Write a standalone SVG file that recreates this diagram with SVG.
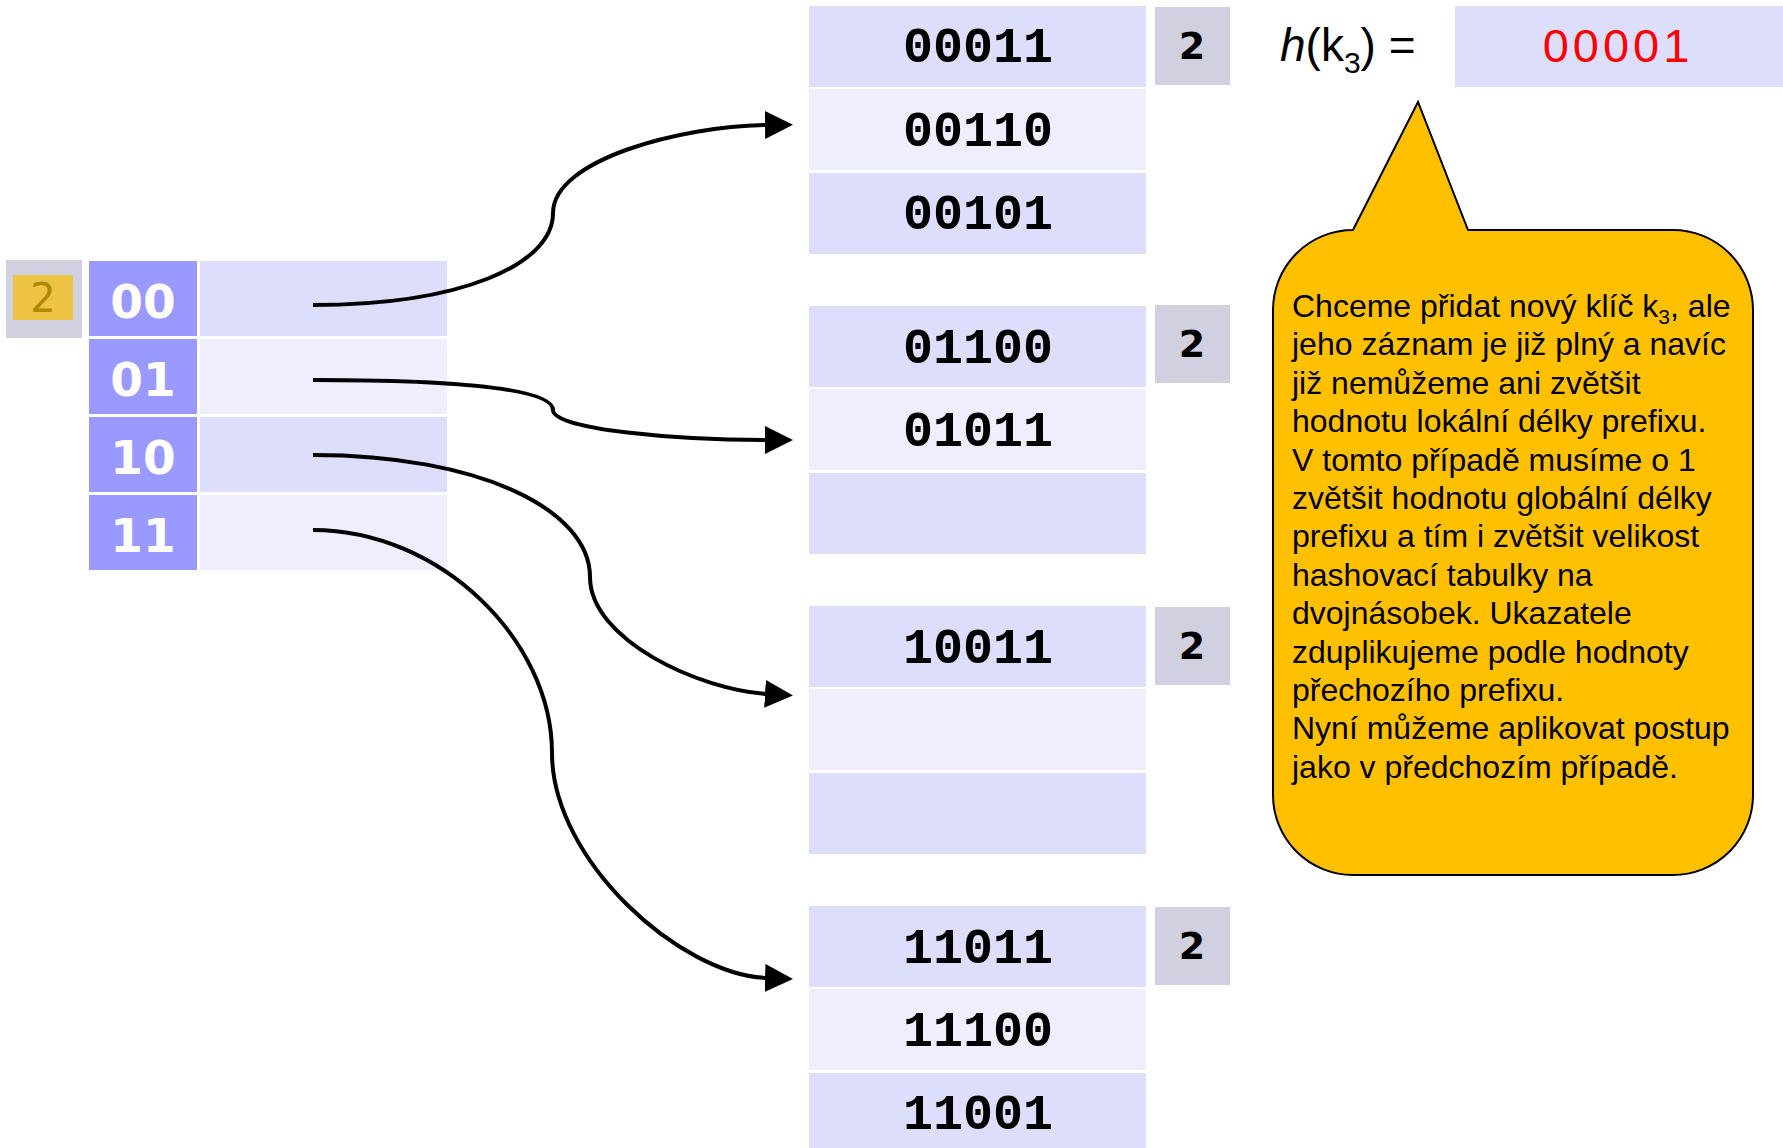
<svg xmlns="http://www.w3.org/2000/svg" width="1783" height="1148" viewBox="0 0 1783 1148">
<style>
.bg{fill:#ffffff}
.cd{fill:#DDDDFC}
.cl{fill:#EEEEFE}
.idx{fill:#9999FF}
.gray{fill:#D0D0E0}
.key{font-family:"Liberation Mono","DejaVu Sans Mono",monospace;font-weight:bold;font-size:50px;fill:#000;text-anchor:middle}
.depth{font-family:"DejaVu Sans",Verdana,sans-serif;font-weight:bold;font-size:38px;fill:#000;text-anchor:middle}
.idxt{font-family:"DejaVu Sans",Verdana,sans-serif;font-weight:bold;font-size:47px;fill:#fff;text-anchor:middle}
.note{font-family:"Liberation Sans",Arial,sans-serif;font-size:32px;fill:#000}
.conn{fill:none;stroke:#000;stroke-width:4;marker-end:url(#arr)}
</style>
<defs>
<marker id="arr" markerUnits="userSpaceOnUse" markerWidth="30" markerHeight="30" refX="2" refY="14" orient="auto">
<path d="M0,0 L28,14 L0,28 Z" fill="#000"/>
</marker>
</defs>
<rect class="bg" x="0" y="0" width="1783" height="1148"/>

<g id="global-depth">
<rect class="gray" x="6" y="260" width="76" height="78"/>
<rect x="13" y="275" width="60" height="45" fill="#EFC444"/>
<text x="43" y="312" font-family="'DejaVu Sans',Verdana,sans-serif" font-size="40" fill="#B08800" text-anchor="middle">2</text>
</g>

<g id="directory">
<rect class="idx" x="89" y="261" width="108" height="75"/>
<rect class="cd" x="200" y="261" width="247" height="75"/>
<text class="idxt" x="143" y="318">00</text>
<rect class="idx" x="89" y="339" width="108" height="75"/>
<rect class="cl" x="200" y="339" width="247" height="75"/>
<text class="idxt" x="143" y="396">01</text>
<rect class="idx" x="89" y="417" width="108" height="75"/>
<rect class="cd" x="200" y="417" width="247" height="75"/>
<text class="idxt" x="143" y="474">10</text>
<rect class="idx" x="89" y="495" width="108" height="75"/>
<rect class="cl" x="200" y="495" width="247" height="75"/>
<text class="idxt" x="143" y="552">11</text>
</g>

<g id="bucket-00">
<rect class="cd" x="809" y="6" width="337" height="81"/>
<text class="key" x="978" y="62">00011</text>
<rect class="cl" x="809" y="89" width="337" height="81"/>
<text class="key" x="978" y="146">00110</text>
<rect class="cd" x="809" y="173" width="337" height="81"/>
<text class="key" x="978" y="229">00101</text>
<rect class="gray" x="1155" y="7" width="75" height="78"/>
<text class="depth" x="1192" y="59">2</text>
</g>

<g id="bucket-01">
<rect class="cd" x="809" y="306" width="337" height="81"/>
<text class="key" x="978" y="363">01100</text>
<rect class="cl" x="809" y="389" width="337" height="81"/>
<text class="key" x="978" y="446">01011</text>
<rect class="cd" x="809" y="473" width="337" height="81"/>
<rect class="gray" x="1155" y="305" width="75" height="78"/>
<text class="depth" x="1192" y="357">2</text>
</g>

<g id="bucket-10">
<rect class="cd" x="809" y="606" width="337" height="81"/>
<text class="key" x="978" y="663">10011</text>
<rect class="cl" x="809" y="689" width="337" height="81"/>
<rect class="cd" x="809" y="773" width="337" height="81"/>
<rect class="gray" x="1155" y="607" width="75" height="78"/>
<text class="depth" x="1192" y="659">2</text>
</g>

<g id="bucket-11">
<rect class="cd" x="809" y="906" width="337" height="81"/>
<text class="key" x="978" y="963">11011</text>
<rect class="cl" x="809" y="989" width="337" height="81"/>
<text class="key" x="978" y="1046">11100</text>
<rect class="cd" x="809" y="1073" width="337" height="81"/>
<text class="key" x="978" y="1129">11001</text>
<rect class="gray" x="1155" y="907" width="75" height="78"/>
<text class="depth" x="1192" y="959">2</text>
</g>

<g id="hash">
<text x="1280" y="61" font-family="'Liberation Sans',Arial,sans-serif" font-size="46" fill="#000"><tspan font-style="italic">h</tspan>(k<tspan font-size="30" dy="12">3</tspan><tspan dy="-12">) =</tspan></text>
<rect class="cd" x="1455" y="6" width="335" height="81"/>
<text x="1618" y="62" font-family="'Liberation Sans',Arial,sans-serif" font-size="47" letter-spacing="4" fill="#FF0000" text-anchor="middle">00001</text>
</g>

<g id="callout">
<path d="M1353,230 L1418,102 L1468,230 L1673,230 A80,80 0 0 1 1753,310 L1753,795 A80,80 0 0 1 1673,875 L1353,875 A80,80 0 0 1 1273,795 L1273,310 A80,80 0 0 1 1353,230 Z" fill="#FFC000" stroke="#000" stroke-width="2"/>
<text class="note" x="1292" y="317">Chceme přidat nový klíč k<tspan font-size="21" dy="7">3</tspan><tspan dy="-7">, ale</tspan></text>
<text class="note" x="1292" y="355.4">jeho záznam je již plný a navíc</text>
<text class="note" x="1292" y="393.8">již nemůžeme ani zvětšit</text>
<text class="note" x="1292" y="432.2">hodnotu lokální délky prefixu.</text>
<text class="note" x="1292" y="470.6">V tomto případě musíme o 1</text>
<text class="note" x="1292" y="509">zvětšit hodnotu globální délky</text>
<text class="note" x="1292" y="547.4">prefixu a tím i zvětšit velikost</text>
<text class="note" x="1292" y="585.8">hashovací tabulky na</text>
<text class="note" x="1292" y="624.2">dvojnásobek. Ukazatele</text>
<text class="note" x="1292" y="662.6">zduplikujeme podle hodnoty</text>
<text class="note" x="1292" y="701">přechozího prefixu.</text>
<text class="note" x="1292" y="739.4">Nyní můžeme aplikovat postup</text>
<text class="note" x="1292" y="777.8">jako v předchozím případě.</text>
</g>

<g id="connectors">
<path class="conn" d="M313,305 C460,305 553,265 553,213 C553,160 680,126 767,125"/>
<path class="conn" d="M313,380 C470,380 553,390 553,410 C553,430 680,440 767,440"/>
<path class="conn" d="M313,455 C480,455 590,510 590,577 C590,640 700,690 767,694"/>
<path class="conn" d="M313,530 C440,530 552,640 552,753 C552,860 680,975 767,978"/>
</g>
</svg>
